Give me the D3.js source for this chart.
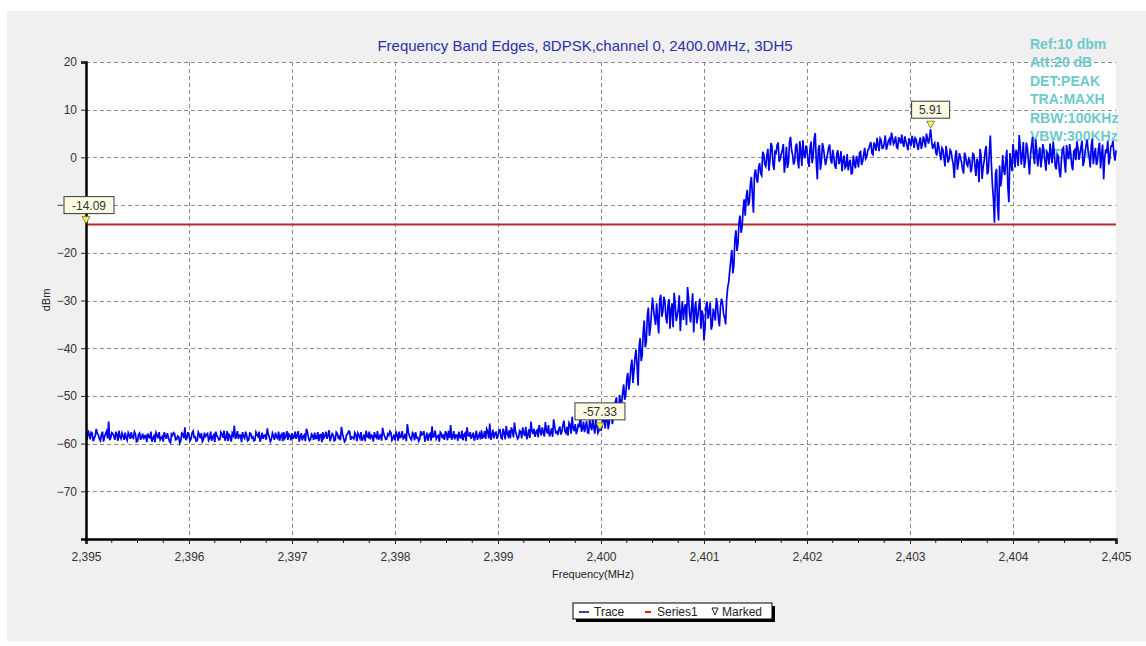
<!DOCTYPE html>
<html>
<head>
<meta charset="utf-8">
<script src="https://cdn.jsdelivr.net/npm/d3@7/dist/d3.min.js"></script>
<style>
  html, body { margin: 0; padding: 0; background: #ffffff; }
  svg { display: block; font-family: "Liberation Sans", Arial, sans-serif; }
</style>
</head>
<body>
<svg id="chart" width="1146" height="646"></svg>
<script>
// ---------------- DATA ----------------
const titleText = "Frequency Band Edges, 8DPSK,channel 0, 2400.0MHz, 3DH5";
const xTickValues = [2395, 2396, 2397, 2398, 2399, 2400, 2401, 2402, 2403, 2404, 2405];
const yTickValues = [20, 10, 0, -10, -20, -30, -40, -50, -60, -70];
const settingsText = ["Ref:10 dbm", "Att:20 dB", "DET:PEAK", "TRA:MAXH", "RBW:100KHz", "VBW:300KHz", "SWT:auto"];
const limitLevel = -14.09;           // Series1 (red limit line)
const startFreq = 2395.0;            // MHz, first trace sample
const stepMHz = 0.02;                // MHz between samples of each array
// trace samples at 2395.00, 2395.02, ... 2405.00
const traceValues = [
  -58.5,-57.2,-59.1,-57.8,-58.9,-56.9,-58.2,-59.4,-57.5,-58.6,
  -57.4,-55.4,-58.8,-57.9,-59.2,-58.1,-57.3,-59.0,-58.4,-57.7,
  -59.3,-58.2,-57.6,-58.9,-58.0,-59.5,-57.8,-58.6,-59.1,-58.3,
  -57.9,-58.8,-59.6,-58.4,-57.7,-58.9,-59.2,-58.5,-57.6,-59.0,
  -58.7,-59.8,-58.3,-57.9,-59.1,-58.6,-59.4,-58.0,-56.6,-58.8,
  -58.3,-59.0,-57.4,-58.6,-59.3,-58.1,-57.8,-59.2,-58.5,-57.9,
  -58.9,-59.4,-58.2,-57.5,-58.7,-59.1,-58.0,-57.3,-58.8,-59.5,
  -58.4,-57.8,-56.2,-58.5,-59.0,-58.2,-57.6,-58.9,-58.3,-59.2,
  -57.9,-58.6,-59.3,-58.1,-57.5,-58.8,-59.0,-58.2,-56.8,-58.7,
  -59.1,-58.4,-57.7,-58.9,-59.4,-58.0,-57.6,-58.5,-59.2,-58.3,
  -57.8,-58.7,-59.0,-57.4,-58.6,-59.3,-58.2,-56.9,-58.8,-59.1,
  -58.3,-57.7,-58.9,-59.5,-58.1,-57.6,-58.4,-59.0,-57.2,-58.7,
  -58.2,-59.2,-57.9,-58.5,-56.5,-58.8,-59.3,-58.0,-57.5,-58.6,
  -59.0,-58.2,-57.8,-58.9,-59.4,-58.1,-57.3,-58.7,-59.1,-58.4,
  -57.6,-58.8,-59.2,-58.0,-56.7,-58.5,-59.0,-58.3,-57.7,-58.9,
  -59.3,-58.1,-57.5,-58.6,-59.0,-57.9,-55.9,-58.4,-59.2,-58.0,
  -57.6,-58.7,-59.1,-58.2,-57.4,-58.8,-59.4,-57.9,-56.4,-58.5,
  -59.0,-58.3,-57.6,-58.9,-59.2,-58.0,-57.3,-56.1,-58.6,-59.1,
  -58.2,-57.5,-58.8,-59.3,-57.8,-56.6,-58.4,-59.0,-57.7,-58.5,
  -59.2,-57.9,-57.2,-58.6,-59.0,-57.4,-55.8,-58.3,-58.9,-57.6,
  -58.4,-57.1,-59.0,-57.8,-56.3,-58.5,-58.9,-57.3,-55.6,-58.2,
  -58.7,-57.5,-56.6,-58.4,-59.1,-57.0,-55.4,-58.0,-58.6,-57.2,
  -56.1,-58.3,-57.6,-55.5,-57.9,-58.5,-56.8,-54.9,-57.7,-58.2,
  -56.4,-57.5,-55.2,-57.8,-58.3,-56.0,-54.4,-57.4,-58.0,-55.8,
  -53.4,-56.9,-57.6,-55.3,-57.8,-56.4,-54.6,-57.9,-56.2,-57.3,
  -57.33,-55.1,-56.8,-53.9,-55.6,-52.8,-54.5,-51.2,-53.6,-49.8,
  -51.5,-47.6,-49.9,-45.2,-46.8,-42.4,-44.7,-40.3,-47.8,-37.9,
  -41.5,-34.2,-38.6,-31.5,-35.8,-29.4,-33.7,-30.6,-36.9,-28.8,
  -32.4,-30.1,-34.8,-29.7,-31.9,-35.6,-30.5,-33.2,-28.9,-32.6,
  -34.1,-30.8,-27.2,-32.9,-31.4,-36.7,-30.2,-33.5,-29.6,-32.1,
  -38.4,-31.0,-33.8,-30.4,-35.2,-32.7,-29.5,-33.9,-31.2,-30.6,
  -33.6,-29.8,-26.1,-21.5,-24.3,-17.2,-19.6,-13.5,-15.8,-10.9,
  -12.2,-6.8,-9.4,-4.1,-11.6,-2.5,-5.3,-1.2,-3.8,0.6,
  -1.9,1.8,-0.7,2.4,-2.6,0.9,3.1,-0.4,1.5,-3.2,
  2.2,-1.1,4.3,0.5,-0.9,2.9,-2.3,1.2,3.6,-0.2,
  1.4,-2.0,3.3,0.2,5.1,-4.6,2.6,-0.8,1.9,-1.6,
  0.8,2.7,-1.3,0.1,-2.4,1.5,-0.6,-2.9,0.4,-1.8,
  -2.7,-0.5,-3.3,-1.2,0.3,-2.1,1.2,-0.9,2.0,0.1,
  1.8,3.2,0.6,2.5,4.1,1.3,3.6,2.0,4.6,2.4,
  3.9,5.2,2.8,4.4,1.9,3.7,4.8,2.2,3.4,1.5,
  3.1,4.5,2.0,3.8,1.6,4.2,2.7,3.5,5.0,2.9,
  5.91,1.8,3.0,0.4,2.2,-0.6,1.6,-1.9,0.8,-0.3,
  1.2,-1.5,0.3,-2.6,0.9,-1.0,-3.4,0.2,-1.8,-0.5,
  -2.2,0.6,-3.9,-1.1,1.8,-4.5,-0.8,2.4,-2.9,4.6,
  -5.8,-13.7,-2.4,-13.2,-6.1,0.5,-3.7,1.6,-9.4,-1.2,
  2.8,-2.1,0.9,4.7,-1.5,3.2,-0.7,1.9,-3.6,2.5,
  0.4,3.8,-1.9,2.1,-0.3,1.4,-2.8,0.7,2.9,-1.2,
  1.1,-2.5,0.3,-4.2,1.8,-1.0,2.6,-0.4,0.9,-2.7,
  1.6,3.4,-0.5,2.2,-1.8,1.0,3.7,0.2,2.5,-1.4,
  2.0,-0.8,3.1,0.6,-4.6,1.7,3.5,-0.2,2.4,0.8,1.5
];
// trace samples in between, at 2395.01, 2395.03, ... 2404.99
const traceValuesMid = [
  -59.2,-58.0,-57.6,-59.5,-58.3,-57.9,-59.0,-58.1,-59.6,-57.9,
  -58.9,-59.3,-57.7,-58.4,-57.5,-59.4,-58.6,-57.8,-59.2,-58.8,
  -57.7,-59.0,-58.7,-57.5,-59.6,-58.1,-59.2,-57.9,-58.4,-59.7,
  -58.6,-57.5,-58.9,-59.7,-58.2,-57.6,-58.8,-59.6,-58.3,-57.8,
  -59.5,-58.0,-57.7,-59.2,-58.4,-59.9,-57.8,-58.9,-59.3,-57.6,
  -59.4,-57.8,-58.7,-59.5,-57.6,-58.9,-59.6,-57.7,-58.2,-59.3,
  -57.5,-58.6,-59.7,-58.3,-59.2,-57.6,-58.8,-59.4,-57.4,-58.1,
  -59.6,-58.3,-59.0,-57.4,-58.2,-59.7,-58.5,-57.5,-59.4,-57.8,
  -58.8,-59.4,-57.6,-58.5,-59.6,-57.7,-58.3,-59.2,-58.0,-59.6,
  -57.8,-59.2,-58.6,-57.5,-58.3,-59.5,-58.9,-57.4,-58.0,-59.3,
  -58.9,-57.5,-58.3,-59.6,-57.8,-58.5,-59.5,-57.6,-59.4,-58.0,
  -59.2,-58.9,-57.6,-58.2,-59.7,-58.8,-57.5,-58.3,-59.5,-57.9,
  -59.4,-57.6,-58.8,-59.3,-57.9,-59.6,-58.1,-57.4,-59.2,-58.7,
  -57.7,-59.5,-58.3,-57.6,-58.8,-59.5,-58.5,-57.5,-58.2,-59.6,
  -58.5,-57.4,-58.6,-59.4,-57.9,-59.1,-58.0,-57.4,-59.3,-58.1,
  -57.6,-59.4,-58.7,-57.4,-58.8,-59.5,-57.6,-58.9,-57.7,-59.3,
  -58.8,-59.5,-57.4,-58.0,-59.6,-57.7,-58.2,-59.4,-58.6,-57.3,
  -58.5,-59.6,-57.9,-58.1,-57.4,-59.3,-58.8,-59.2,-57.4,-58.2,
  -59.4,-58.7,-57.3,-58.1,-59.5,-58.3,-57.6,-58.4,-59.4,-57.3,
  -58.4,-59.1,-58.8,-57.4,-56.9,-58.9,-59.2,-57.1,-57.8,-59.0,
  -57.2,-58.8,-56.9,-59.1,-58.0,-57.2,-56.6,-58.7,-57.4,-59.0,
  -57.3,-58.9,-57.8,-56.5,-58.2,-58.8,-57.3,-56.9,-57.6,-58.7,
  -57.4,-56.6,-58.5,-57.2,-56.1,-57.8,-58.6,-56.3,-57.5,-57.0,
  -58.1,-56.2,-57.4,-56.5,-55.6,-57.9,-56.8,-55.9,-57.2,-56.6,
  -57.5,-55.4,-56.3,-57.7,-55.0,-57.2,-56.6,-54.9,-57.8,-55.9,
  -56.4,-54.2,-54.9,-57.0,-53.1,-55.9,-52.4,-50.3,-54.8,-51.6,
  -49.4,-50.8,-46.5,-48.7,-44.0,-47.3,-41.9,-43.6,-39.8,-42.7,
  -36.5,-39.8,-33.1,-37.4,-32.6,-31.8,-35.1,-33.9,-29.9,-33.4,
  -29.2,-33.5,-31.1,-35.9,-30.6,-28.4,-34.3,-31.8,-36.4,-30.2,
  -31.6,-35.2,-29.4,-34.6,-28.5,-32.0,-34.8,-31.1,-35.9,-33.0,
  -35.7,-30.2,-32.5,-36.1,-31.7,-34.2,-30.9,-35.4,-29.6,-32.8,
  -35.0,-27.3,-23.8,-19.4,-22.6,-15.3,-18.1,-12.2,-14.6,-8.8,
  -8.3,-10.1,-5.7,-7.9,-3.6,-4.4,-2.1,-3.4,1.2,-1.5,
  0.4,-2.8,3.0,-1.5,1.2,2.6,-0.9,0.7,2.8,-1.0,
  -2.2,3.1,1.6,-1.5,2.3,-0.6,3.4,-1.8,0.6,2.5,
  -0.6,2.1,-1.2,4.0,-0.9,1.7,-2.6,3.0,0.1,-0.4,
  2.1,-0.5,1.6,-1.7,0.9,-1.4,1.3,-0.8,-2.2,0.7,
  -1.1,-3.4,0.4,-2.3,-0.7,1.0,-1.6,0.6,-0.3,1.5,
  2.6,0.9,3.1,1.4,2.8,4.0,1.9,3.0,1.6,3.5,
  2.5,4.1,3.3,2.1,4.2,2.9,3.1,4.4,2.5,4.0,
  2.4,3.6,4.1,2.5,3.2,1.8,4.4,2.1,3.8,4.3,
  3.4,2.6,1.1,3.2,0.7,2.0,-0.2,2.4,-1.1,1.6,
  -0.4,-4.3,1.5,-1.2,-0.1,-2.4,1.0,-1.4,-0.2,-3.1,
  0.8,-1.7,-0.3,-5.2,0.4,-2.0,1.4,-3.6,0.9,-1.3,
  -8.7,-3.5,-9.8,-1.7,-4.4,-2.6,-0.6,-6.2,0.9,-2.9,
  0.8,1.6,-1.8,2.4,0.4,-2.2,3.1,-0.9,0.6,4.3,
  -1.4,1.5,0.2,-2.1,2.8,-0.8,1.1,-1.5,0.5,3.3,
  -1.8,0.6,-2.9,-0.5,2.1,-3.2,0.5,2.8,-1.6,1.3,
  -0.6,2.0,0.8,3.5,-0.9,2.6,1.2,-2.1,3.9,0.5,
  -1.6,1.9,-2.3,2.7,-0.2,0.9,-1.5,2.3,3.4,-0.7
];
// Marked points: [frequency MHz, level dBm]
const markerFreqs = [2395.0, 2399.99, 2403.2];
const markerLevels = [-14.09, -57.33, 5.91];
const legendLabels = ["Trace", "Series1", "Marked"];

// ---------------- LAYOUT ----------------
const svg = d3.select("#chart");
const plot = { left: 86, top: 62, right: 1116, bottom: 539 };

const x = d3.scaleLinear().domain([2395, 2405]).range([plot.left, plot.right]);
const y = d3.scaleLinear().domain([-80, 20]).range([plot.bottom, plot.top]);

// panel backgrounds
svg.append("rect").attr("x", 7).attr("y", 11).attr("width", 1139).attr("height", 630).attr("fill", "#f0f0f0");
svg.append("rect").attr("x", plot.left).attr("y", plot.top)
  .attr("width", plot.right - plot.left).attr("height", plot.bottom - plot.top).attr("fill", "#ffffff");

// grid
const grid = svg.append("g").attr("stroke", "#8c8c8c").attr("stroke-width", 1).attr("stroke-dasharray", "4,3");
grid.selectAll("line.h").data(yTickValues.filter(v => v > -80)).join("line")
  .attr("x1", plot.left).attr("x2", plot.right)
  .attr("y1", d => Math.round(y(d)) + 0.5).attr("y2", d => Math.round(y(d)) + 0.5);
grid.selectAll("line.v").data(xTickValues.filter(v => v > 2395 && v < 2405)).join("line")
  .attr("y1", plot.top).attr("y2", plot.bottom)
  .attr("x1", d => Math.round(x(d)) + 0.5).attr("x2", d => Math.round(x(d)) + 0.5);

// title
svg.append("text").attr("x", 585).attr("y", 51).attr("text-anchor", "middle")
  .attr("font-size", 15).attr("fill", "#2e2eaa").text(titleText);

// instrument settings text (drawn under the trace)
svg.append("g").selectAll("text").data(settingsText).join("text")
  .attr("x", 1030).attr("y", (d, i) => 49 + i * 18.4)
  .attr("font-size", 14).attr("font-weight", "bold").attr("fill", "#6ccaca")
  .text(d => d);

// limit line
svg.append("line").attr("x1", plot.left).attr("x2", plot.right)
  .attr("y1", y(limitLevel)).attr("y2", y(limitLevel))
  .attr("stroke", "#c0262b").attr("stroke-width", 2);

// trace: interleave the two sample arrays
const traceData = [];
traceValues.forEach((v, i) => {
  traceData.push([startFreq + i * stepMHz, v]);
  if (i < traceValuesMid.length) traceData.push([startFreq + stepMHz / 2 + i * stepMHz, traceValuesMid[i]]);
});
const line = d3.line().x(d => x(d[0])).y(d => y(d[1]));
svg.append("path").datum(traceData).attr("d", line)
  .attr("fill", "none").attr("stroke", "#0000f0").attr("stroke-width", 1.7).attr("stroke-linejoin", "miter");

// axes
const xAxis = d3.axisBottom(x).tickValues(xTickValues).tickFormat(d3.format(",")).tickSize(5).tickPadding(8);
const gx = svg.append("g").attr("transform", `translate(0,${plot.bottom})`).call(xAxis);
gx.select(".domain").attr("stroke", "#000").attr("stroke-width", 2.5);
gx.selectAll(".tick line").attr("stroke", "#222");
gx.selectAll(".tick text").attr("font-size", 12).attr("fill", "#333").attr("font-family", "Liberation Sans, Arial, sans-serif");

const minorTicks = d3.range(0, 41).map(i => 2395 + i * 0.25).filter(v => !xTickValues.includes(v));
svg.append("g").selectAll("line").data(minorTicks).join("line")
  .attr("x1", d => x(d)).attr("x2", d => x(d))
  .attr("y1", plot.bottom).attr("y2", plot.bottom + 4).attr("stroke", "#222");

const yAxis = d3.axisLeft(y).tickValues(yTickValues).tickSize(5).tickPadding(4);
const gy = svg.append("g").attr("transform", `translate(${plot.left},0)`).call(yAxis);
gy.select(".domain").attr("stroke", "#000").attr("stroke-width", 2.5);
gy.selectAll(".tick line").attr("stroke", "#222");
gy.selectAll(".tick text").attr("font-size", 12).attr("fill", "#333").attr("font-family", "Liberation Sans, Arial, sans-serif");

// axis titles
svg.append("text").attr("x", 593).attr("y", 578).attr("text-anchor", "middle")
  .attr("font-size", 11).attr("fill", "#222").text("Frequency(MHz)");
svg.append("text").attr("transform", "translate(50,300) rotate(-90)").attr("text-anchor", "middle")
  .attr("font-size", 11).attr("fill", "#222").text("dBm");

// markers
const markers = markerFreqs.map((f, i) => ({ f, v: markerLevels[i] }));
const mg = svg.append("g").selectAll("g").data(markers).join("g")
  .attr("transform", d => `translate(${x(d.f)},${y(d.v)})`);
mg.append("path").attr("d", "M-4,-8 L4,-8 L0,-1 Z").attr("fill", "#f5f55a").attr("stroke", "#6b6b2a").attr("stroke-width", 0.8);
mg.append("rect").attr("x", d => d.v === -14.09 ? -22 : (d.v > 0 ? -19 : -25)).attr("y", -28)
  .attr("width", d => d.v > 0 ? 38 : 50).attr("height", 17)
  .attr("fill", "#fbfbe4").attr("stroke", "#3a3a3a").attr("stroke-width", 1);
mg.append("text").attr("x", d => d.v === -14.09 ? 3 : 0).attr("y", -15).attr("text-anchor", "middle")
  .attr("font-size", 12).attr("fill", "#333").text(d => d.v.toFixed(2));

// legend
const lg = svg.append("g").attr("transform", "translate(573,603)");
lg.append("rect").attr("x", 3).attr("y", 3).attr("width", 199).attr("height", 16).attr("fill", "#000");
lg.append("rect").attr("x", 0).attr("y", 0).attr("width", 199).attr("height", 16).attr("fill", "#fff").attr("stroke", "#000");
lg.append("line").attr("x1", 6).attr("x2", 16).attr("y1", 9).attr("y2", 9).attr("stroke", "#00007a").attr("stroke-width", 1.5);
lg.append("text").attr("x", 21).attr("y", 13).attr("font-size", 12).attr("fill", "#222").text(legendLabels[0]);
lg.append("line").attr("x1", 72).attr("x2", 78).attr("y1", 9).attr("y2", 9).attr("stroke", "#d02020").attr("stroke-width", 2);
lg.append("text").attr("x", 84).attr("y", 13).attr("font-size", 12).attr("fill", "#222").text(legendLabels[1]);
lg.append("path").attr("d", "M139,5 L145,5 L142,12 Z").attr("fill", "none").attr("stroke", "#222").attr("stroke-width", 1);
lg.append("text").attr("x", 149).attr("y", 13).attr("font-size", 12).attr("fill", "#222").text(legendLabels[2]);
</script>
</body>
</html>
